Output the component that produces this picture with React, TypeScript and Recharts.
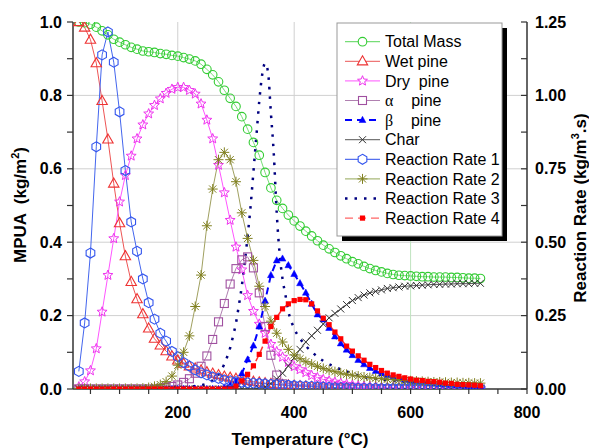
import React from 'react';
import { LineChart, Line, XAxis, YAxis, ReferenceLine } from 'recharts';

// temperature grid (°C) shared by the marker series
const temps = [
  30, 40, 50, 60, 70, 80, 90, 100, 110, 120,
  130, 140, 150, 160, 170, 180, 190, 200, 210, 220,
  230, 240, 250, 260, 270, 280, 290, 300, 310, 320,
  330, 340, 350, 360, 370, 380, 390, 400, 410, 420,
  430, 440, 450, 460, 470, 480, 490, 500, 510, 520,
  530, 540, 550, 560, 570, 580, 590, 600, 610, 620,
  630, 640, 650, 660, 670, 680, 690, 700, 710, 720,
];

// MPUA (kg/m2), left axis
const totalMass = [
  1.0, 0.998, 0.994, 0.986, 0.976, 0.965, 0.953, 0.945, 0.938, 0.931,
  0.926, 0.921, 0.919, 0.917, 0.914, 0.912, 0.909, 0.907, 0.903, 0.899,
  0.894, 0.885, 0.871, 0.856, 0.837, 0.814, 0.792, 0.77, 0.742, 0.708,
  0.672, 0.637, 0.59, 0.548, 0.514, 0.492, 0.474, 0.458, 0.444, 0.43,
  0.417, 0.404, 0.392, 0.382, 0.372, 0.363, 0.355, 0.347, 0.341, 0.334,
  0.328, 0.323, 0.319, 0.315, 0.312, 0.31, 0.309, 0.308, 0.307, 0.306,
  0.306, 0.305, 0.305, 0.305, 0.304, 0.304, 0.303, 0.302, 0.302, 0.301,
];
const wetPine = [
  1.0, 0.985, 0.952, 0.888, 0.785, 0.68, 0.56, 0.452, 0.362, 0.292,
  0.245, 0.204, 0.165, 0.137, 0.119, 0.103, 0.089, 0.078, 0.069, 0.062,
  0.056, 0.051, 0.046, 0.042, 0.038, 0.034, 0.031, 0.028, 0.025, 0.022,
  0.02, 0.018, 0.016, 0.014, 0.012, 0.011, 0.01, 0.009, 0.008, 0.007,
  0.006, 0.005, 0.005, 0.004, 0.004, 0.003, 0.003, 0.003, 0.002, 0.002,
  0.002, 0.002, 0.001, 0.001, 0.001, 0.001, 0.001, 0.001, 0.001, 0.001,
  0.001, 0.001, 0.001, 0.001, 0.001, 0.001, 0.001, 0.001, 0.001, 0.001,
];
const dryPine = [
  0.006, 0.02, 0.05, 0.11, 0.21, 0.31, 0.41, 0.51, 0.582, 0.635,
  0.682, 0.72, 0.75, 0.773, 0.791, 0.806, 0.817, 0.822, 0.822, 0.814,
  0.804, 0.777, 0.733, 0.682, 0.61, 0.535, 0.46, 0.387, 0.325, 0.255,
  0.212, 0.177, 0.152, 0.122, 0.102, 0.087, 0.073, 0.061, 0.053, 0.045,
  0.037, 0.031, 0.026, 0.022, 0.019, 0.016, 0.013, 0.011, 0.009, 0.008,
  0.007, 0.006, 0.005, 0.004, 0.004, 0.003, 0.003, 0.002, 0.002, 0.002,
  0.002, 0.002, 0.001, 0.001, 0.001, 0.001, 0.001, 0.001, 0.001, 0.001,
];
const alphaPine = [
  0, 0, 0, 0, 0, 0, 0, 0, 0, 0,
  0, 0, 0, 0, 0.002, 0.004, 0.007, 0.011, 0.018, 0.028,
  0.043, 0.062, 0.09, 0.135, 0.183, 0.233, 0.286, 0.328, 0.352, 0.36,
  0.33, 0.262, 0.17, 0.092, 0.038, 0.014, 0.005, 0.002, 0, 0,
  0, 0, 0, 0, 0, 0, 0, 0, 0, 0,
  0, 0, 0, 0, 0, 0, 0, 0, 0, 0,
  0, 0, 0, 0, 0, 0, 0, 0, 0, 0,
];
const betaPine = [
  0, 0, 0, 0, 0, 0, 0, 0, 0, 0,
  0, 0, 0, 0, 0, 0, 0, 0, 0, 0,
  0, 0, 0, 0, 0, 0.004, 0.01, 0.02, 0.042, 0.08,
  0.118, 0.17, 0.24, 0.31, 0.35, 0.355, 0.337, 0.313, 0.288, 0.262,
  0.232, 0.203, 0.189, 0.166, 0.143, 0.124, 0.107, 0.092, 0.079, 0.067,
  0.057, 0.049, 0.042, 0.037, 0.032, 0.028, 0.025, 0.022, 0.02, 0.018,
  0.016, 0.015, 0.013, 0.012, 0.011, 0.01, 0.009, 0.008, 0.008, 0.007,
];
const charMass = [
  0, 0, 0, 0, 0, 0, 0, 0, 0, 0,
  0, 0, 0, 0, 0, 0, 0, 0, 0, 0,
  0, 0, 0, 0, 0, 0, 0, 0, 0, 0,
  0, 0.002, 0.006, 0.015, 0.027, 0.043, 0.063, 0.085, 0.108, 0.128,
  0.145, 0.16, 0.177, 0.194, 0.206, 0.218, 0.23, 0.241, 0.249, 0.256,
  0.262, 0.266, 0.27, 0.274, 0.276, 0.278, 0.28, 0.281, 0.282, 0.283,
  0.284, 0.285, 0.285, 0.286, 0.286, 0.287, 0.287, 0.287, 0.288, 0.288,
];

// reaction rates (kg/m3.s), right axis
const rate1 = [
  0.06, 0.225, 0.463, 0.825, 1.138, 1.216, 1.113, 0.944, 0.744, 0.569,
  0.469, 0.375, 0.294, 0.238, 0.19, 0.163, 0.128, 0.11, 0.09, 0.078,
  0.065, 0.055, 0.048, 0.041, 0.036, 0.031, 0.028, 0.025, 0.023, 0.021,
  0.02, 0.019, 0.018, 0.016, 0.015, 0.014, 0.013, 0.012, 0.011, 0.01,
  0.009, 0.008, 0.007, 0.006, 0.005, 0.005, 0.004, 0.004, 0.003, 0.003,
  0.003, 0.003, 0.002, 0.002, 0.002, 0.002, 0.002, 0.002, 0.002, 0.002,
  0.001, 0.001, 0.001, 0.001, 0.001, 0.001, 0.001, 0.001, 0.001, 0.001,
];
const rate2 = [
  0.002, 0.002, 0.002, 0.002, 0.002, 0.002, 0.002, 0.002, 0.002, 0.002,
  0.002, 0.003, 0.005, 0.009, 0.015, 0.025, 0.044, 0.081, 0.125, 0.181,
  0.281, 0.388, 0.556, 0.681, 0.781, 0.806, 0.781, 0.706, 0.6, 0.513,
  0.438, 0.35, 0.281, 0.231, 0.19, 0.16, 0.135, 0.116, 0.103, 0.093,
  0.085, 0.077, 0.07, 0.064, 0.059, 0.054, 0.05, 0.047, 0.044, 0.041,
  0.039, 0.037, 0.035, 0.033, 0.032, 0.03, 0.029, 0.028, 0.027, 0.026,
  0.025, 0.024, 0.024, 0.023, 0.022, 0.022, 0.021, 0.021, 0.02, 0.02,
];
const rate4 = [
  0, 0, 0, 0, 0, 0, 0, 0, 0, 0,
  0, 0, 0, 0, 0, 0, 0, 0, 0, 0,
  0, 0, 0, 0, 0, 0, 0, 0.01, 0.028, 0.05,
  0.079, 0.118, 0.163, 0.213, 0.244, 0.273, 0.29, 0.301, 0.305, 0.304,
  0.29, 0.266, 0.241, 0.219, 0.194, 0.171, 0.146, 0.129, 0.113, 0.098,
  0.084, 0.073, 0.063, 0.054, 0.048, 0.043, 0.038, 0.034, 0.03, 0.029,
  0.026, 0.025, 0.023, 0.02, 0.019, 0.016, 0.015, 0.014, 0.013, 0.011,
];
// rate 3 is a plain dotted line, sampled finer around its narrow peak
const rate3Temps = [
  30, 100, 150, 200, 230, 250, 260, 270, 280, 285,
  290, 295, 300, 305, 310, 315, 320, 325, 330, 335,
  340, 345, 350, 355, 360, 365, 370, 375, 380, 385,
  390, 400, 410, 420, 430, 450, 470, 490, 520, 560,
  610, 660, 720,
];
const rate3 = [
  0, 0, 0.002, 0.005, 0.01, 0.018, 0.03, 0.05, 0.085, 0.11,
  0.14, 0.18, 0.225, 0.285, 0.35, 0.43, 0.52, 0.62, 0.74, 0.86,
  0.98, 1.07, 1.11, 1.08, 0.94, 0.8, 0.6, 0.46, 0.375, 0.32,
  0.265, 0.206, 0.172, 0.147, 0.127, 0.096, 0.075, 0.06, 0.041, 0.03,
  0.021, 0.019, 0.015,
];

const xTicks = [50, 100, 150, 200, 250, 300, 350, 400, 450, 500, 550, 600, 650, 700, 750, 800];
const leftTicks = [0, 0.1, 0.2, 0.3, 0.4, 0.5, 0.6, 0.7, 0.8, 0.9, 1.0];
const rightTicks = [0, 0.125, 0.25, 0.375, 0.5, 0.625, 0.75, 0.875, 1.0, 1.125, 1.25];

const FONT = 'Arial, "Liberation Sans", Helvetica, sans-serif';

const rows = (xs: number[], vals: number[]) => xs.map((t, i) => ({ t, v: vals[i] }));

type Kind = 'circle' | 'triangle' | 'star' | 'square' | 'solidTri' | 'cross' | 'hexagon' | 'asterisk' | 'solidSquare';

const polyPoints = (x: number, y: number, n: number, rOuter: number, rInner?: number) => {
  const pts: string[] = [];
  const count = rInner ? n * 2 : n;
  for (let k = 0; k < count; k++) {
    const a = (-90 + (k * 360) / count) * (Math.PI / 180);
    const r = rInner && k % 2 === 1 ? rInner : rOuter;
    pts.push(`${(x + r * Math.cos(a)).toFixed(2)},${(y + r * Math.sin(a)).toFixed(2)}`);
  }
  return pts.join(' ');
};

const Marker = ({ kind, x, y, color, fill = 'none' }: { kind: Kind; x: number; y: number; color: string; fill?: string }) => {
  switch (kind) {
    case 'circle':
      return <circle cx={x} cy={y} r={4.3} fill={fill} stroke={color} strokeWidth={1.1} />;
    case 'triangle':
      return <polygon points={`${x},${y - 5.5} ${x + 5.2},${y + 3.6} ${x - 5.2},${y + 3.6}`} fill={fill} stroke={color} strokeWidth={1.1} />;
    case 'star':
      return <polygon points={polyPoints(x, y, 5, 5.2, 2.3)} fill={fill} stroke={color} strokeWidth={1} />;
    case 'square':
      return <rect x={x - 4} y={y - 4} width={8} height={8} fill={fill} stroke={color} strokeWidth={1.1} />;
    case 'solidTri':
      return <polygon points={`${x},${y - 3.8} ${x + 3.4},${y + 2.4} ${x - 3.4},${y + 2.4}`} fill={color} stroke={color} strokeWidth={0.5} />;
    case 'cross':
      return (
        <g stroke={color} strokeWidth={1}>
          <line x1={x - 3.5} y1={y - 3.5} x2={x + 3.5} y2={y + 3.5} />
          <line x1={x - 3.5} y1={y + 3.5} x2={x + 3.5} y2={y - 3.5} />
        </g>
      );
    case 'hexagon':
      return <polygon points={polyPoints(x, y, 6, 5)} fill={fill} stroke={color} strokeWidth={1.1} />;
    case 'asterisk':
      return (
        <g stroke={color} strokeWidth={1}>
          <line x1={x - 5} y1={y} x2={x + 5} y2={y} />
          <line x1={x} y1={y - 5} x2={x} y2={y + 5} />
          <line x1={x - 3.6} y1={y - 3.6} x2={x + 3.6} y2={y + 3.6} />
          <line x1={x - 3.6} y1={y + 3.6} x2={x + 3.6} y2={y - 3.6} />
        </g>
      );
    case 'solidSquare':
      return <rect x={x - 2.6} y={y - 2.6} width={5.2} height={5.2} fill={color} />;
    default:
      return null;
  }
};

const dotFn = (kind: Kind, color: string) => (props: any) => {
  const { cx, cy, index } = props;
  if (typeof cx !== 'number' || typeof cy !== 'number') return <g key={`${kind}-${index}`} />;
  return <Marker key={`${kind}-${index}`} kind={kind} x={cx} y={cy} color={color} />;
};

const legendItems: { label: React.ReactNode; kind: Kind | null; line: string; mark: string; dash?: string; width?: number }[] = [
  { label: 'Total Mass', kind: 'circle', line: '#77dd77', mark: '#33cc33' },
  { label: 'Wet pine', kind: 'triangle', line: '#ee7777', mark: '#ee3333' },
  { label: 'Dry  pine', kind: 'star', line: '#ff77ff', mark: '#ee33ee' },
  { label: <><tspan fontFamily='"Liberation Serif", serif'>α</tspan>{'    pine'}</>, kind: 'square', line: '#b080b0', mark: '#a050a0' },
  { label: <><tspan fontFamily='"Liberation Serif", serif'>β</tspan>{'    pine'}</>, kind: 'solidTri', line: '#0000ff', mark: '#0000ff', dash: '7 5', width: 2 },
  { label: 'Char', kind: 'cross', line: '#777777', mark: '#333333' },
  { label: 'Reaction Rate 1', kind: 'hexagon', line: '#5570ee', mark: '#3355ee' },
  { label: 'Reaction Rate 2', kind: 'asterisk', line: '#a8b878', mark: '#808020' },
  { label: 'Reaction Rate 3', kind: null, line: '#000080', mark: '#000080', dash: '2.5 7', width: 2.5 },
  { label: 'Reaction Rate 4', kind: 'solidSquare', line: '#ff6666', mark: '#ff0000', dash: '8 5' },
];

const tickStyle = { fill: '#000', fontSize: 16, fontWeight: 'bold' as const, fontFamily: FONT };
const axisLineStyle = { stroke: '#333', strokeWidth: 1.5 };
const tickLineStyle = { stroke: '#333', strokeWidth: 1.2 };

const App = () => {
  const lx = 329;
  const ly = 15;
  const lw = 165;
  const lh = 213;
  return (
    <div style={{ position: 'relative', width: 589, height: 440, background: '#fff' }}>
      <LineChart width={589} height={440} margin={{ top: 14, right: 10, bottom: 19, left: 5 }}>
        <XAxis
          xAxisId="b"
          type="number"
          dataKey="t"
          domain={[20, 800]}
          ticks={xTicks}
          interval={0}
          allowDataOverflow
          height={40}
          tickSize={5}
          tickMargin={13}
          axisLine={axisLineStyle}
          tickLine={tickLineStyle}
          tick={tickStyle}
          tickFormatter={(v: number) => (v % 200 === 0 ? String(v) : '')}
        />
        <XAxis
          xAxisId="top"
          orientation="top"
          type="number"
          dataKey="t"
          domain={[20, 800]}
          ticks={xTicks}
          interval={0}
          allowDataOverflow
          height={0}
          mirror
          tickSize={4}
          axisLine={axisLineStyle}
          tickLine={tickLineStyle}
          tick={false}
        />
        <YAxis
          yAxisId="l"
          type="number"
          domain={[0, 1]}
          ticks={leftTicks}
          interval={0}
          allowDataOverflow
          width={60}
          tickSize={6}
          tickMargin={5}
          axisLine={axisLineStyle}
          tickLine={tickLineStyle}
          tick={tickStyle}
          tickFormatter={(v: number) => (Math.round(v * 10) % 2 === 0 ? v.toFixed(1) : '')}
        />
        <YAxis
          yAxisId="r"
          orientation="right"
          type="number"
          domain={[0, 1.25]}
          ticks={rightTicks}
          interval={0}
          allowDataOverflow
          width={60}
          tickSize={-6}
          tickMargin={14}
          axisLine={axisLineStyle}
          tickLine={tickLineStyle}
          tick={tickStyle}
          tickFormatter={(v: number) => (Math.round(v * 1000) % 250 === 0 ? v.toFixed(2) : '')}
        />

        {[0.2, 0.4, 0.6, 0.8].map((y) => (
          <ReferenceLine key={`gy${y}`} xAxisId="b" yAxisId="l" y={y} stroke="#d0d0d0" strokeWidth={1} />
        ))}
        {[200, 400, 600].map((x) => (
          <ReferenceLine key={`gx${x}`} xAxisId="b" yAxisId="l" x={x} stroke={x === 600 ? '#bfe3bf' : '#d0d0d0'} strokeWidth={1} />
        ))}

        <Line xAxisId="b" yAxisId="l" data={rows(temps, totalMass)} dataKey="v" name="Total Mass" type="linear"
          stroke="#77dd77" strokeWidth={1} dot={dotFn('circle', '#33cc33')} activeDot={false} isAnimationActive={false} />
        <Line xAxisId="b" yAxisId="l" data={rows(temps, wetPine)} dataKey="v" name="Wet pine" type="linear"
          stroke="#ee5555" strokeWidth={1} dot={dotFn('triangle', '#ee3333')} activeDot={false} isAnimationActive={false} />
        <Line xAxisId="b" yAxisId="l" data={rows(temps, dryPine)} dataKey="v" name="Dry pine" type="linear"
          stroke="#ff55ff" strokeWidth={1} dot={dotFn('star', '#ee33ee')} activeDot={false} isAnimationActive={false} />
        <Line xAxisId="b" yAxisId="l" data={rows(temps, alphaPine)} dataKey="v" name="alpha pine" type="linear"
          stroke="#b080b0" strokeWidth={1} dot={dotFn('square', '#a050a0')} activeDot={false} isAnimationActive={false} />
        <Line xAxisId="b" yAxisId="l" data={rows(temps, betaPine)} dataKey="v" name="beta pine" type="linear"
          stroke="#0000ff" strokeWidth={2} strokeDasharray="7 5" dot={dotFn('solidTri', '#0000ff')} activeDot={false} isAnimationActive={false} />
        <Line xAxisId="b" yAxisId="l" data={rows(temps, charMass)} dataKey="v" name="Char" type="linear"
          stroke="#555555" strokeWidth={1} dot={dotFn('cross', '#333333')} activeDot={false} isAnimationActive={false} />
        <Line xAxisId="b" yAxisId="r" data={rows(temps, rate1)} dataKey="v" name="Reaction Rate 1" type="linear"
          stroke="#4466ee" strokeWidth={1} dot={dotFn('hexagon', '#3355ee')} activeDot={false} isAnimationActive={false} />
        <Line xAxisId="b" yAxisId="r" data={rows(temps, rate2)} dataKey="v" name="Reaction Rate 2" type="linear"
          stroke="#a0a060" strokeWidth={1} dot={dotFn('asterisk', '#808020')} activeDot={false} isAnimationActive={false} />
        <Line xAxisId="b" yAxisId="r" data={rows(rate3Temps, rate3)} dataKey="v" name="Reaction Rate 3" type="monotone"
          stroke="#000080" strokeWidth={2.5} strokeDasharray="2.5 7" dot={false} activeDot={false} isAnimationActive={false} />
        <Line xAxisId="b" yAxisId="r" data={rows(temps, rate4)} dataKey="v" name="Reaction Rate 4" type="linear"
          stroke="#ff3333" strokeWidth={1.5} strokeDasharray="6 4" dot={dotFn('solidSquare', '#ff0000')} activeDot={false} isAnimationActive={false} />
      </LineChart>

      <svg width={589} height={440} style={{ position: 'absolute', left: 0, top: 0, pointerEvents: 'none', overflow: 'visible' }}>
        {/* legend */}
        <rect x={lx + 5} y={ly + 5} width={lw} height={lh} fill="#000" />
        <rect x={lx} y={ly} width={lw} height={lh} fill="#fff" stroke="#999" strokeWidth={1} />
        {legendItems.map((it, i) => {
          const cy = ly + 18.7 + i * 19.6;
          return (
            <g key={`lg${i}`}>
              <line x1={lx + 8} x2={lx + 43} y1={cy} y2={cy} stroke={it.line} strokeWidth={it.width ?? 1.2} strokeDasharray={it.dash} />
              {it.kind && <Marker kind={it.kind} x={lx + 25.5} y={cy} color={it.mark} fill="#fff" />}
              <text x={lx + 48} y={cy} dy="0.36em" fontSize={16} fontFamily={FONT} fill="#000" style={{ whiteSpace: 'pre' }}>
                {it.label}
              </text>
            </g>
          );
        })}

        {/* axis titles */}
        <text transform="translate(18,197) rotate(-90)" textAnchor="middle" fontSize={17} fontWeight="bold" fontFamily={FONT} fill="#000" style={{ whiteSpace: 'pre' }}>
          {'MPUA  (kg/m'}
          <tspan dy={-7} fontSize={11}>2</tspan>
          <tspan dy={7}>)</tspan>
        </text>
        <text transform="translate(578,200) rotate(-90)" textAnchor="middle" fontSize={17} fontWeight="bold" fontFamily={FONT} fill="#000">
          {'Reaction Rate (kg/m'}
          <tspan dy={-7} fontSize={11}>3</tspan>
          <tspan dy={7}>.s)</tspan>
        </text>
        <text x={292} y={437} textAnchor="middle" fontSize={17} fontWeight="bold" fontFamily={FONT} fill="#000">
          Temperature (°C)
        </text>
      </svg>
    </div>
  );
};

export default App;
